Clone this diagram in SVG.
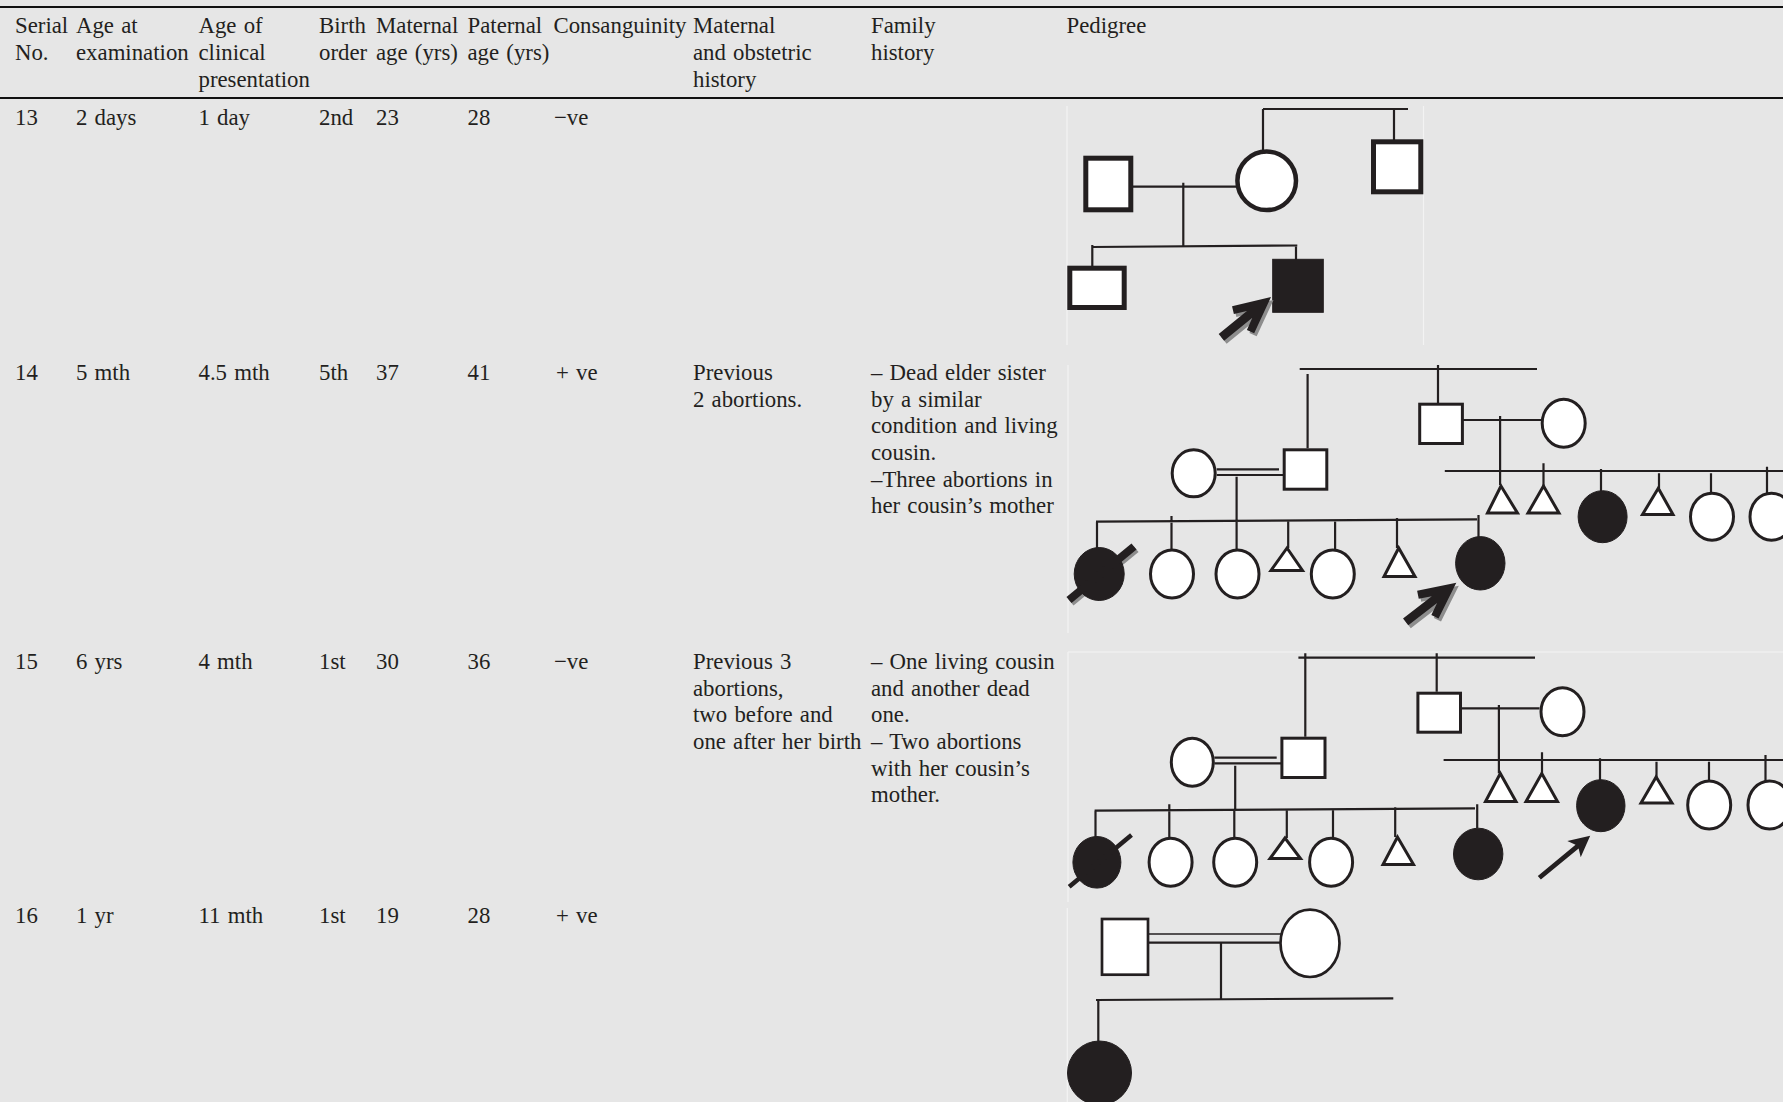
<svg xmlns="http://www.w3.org/2000/svg" width="1783" height="1102" viewBox="0 0 1783 1102">
<style>
.t{font-family:"Liberation Serif","Times New Roman",serif;font-size:22.8px;word-spacing:1.5px;fill:#231f20}
.rule{stroke:#111;stroke-width:2.2;fill:none}
.ln{stroke:#231f20;stroke-width:2.2;fill:none}
.sym{fill:#fff;stroke:#231f20;stroke-width:3}
.thick{stroke-width:5}
.aff{fill:#231f20;stroke:#231f20;stroke-width:1}
.frame{stroke:#f3f3f3;stroke-width:1.2;fill:none}
.shadow{fill:#8d8d8d}
</style>
<defs>
<polygon id="bigArrow" points="0,0 -36,-17.5 -39.5,-10.3 -27.6,-4.3 -64,-4.3 -64,4.3 -27.6,4.3 -39.5,10.3 -36,17.5"/>
<polygon id="thinArrow" points="0,0 -21,-10.5 -17,-2.4 -66,-2.4 -66,2.4 -17,2.4 -21,10.5"/>
</defs>
<rect width="1783" height="1102" fill="#e6e6e6"/>
<g id="table-rules">
<line class="rule" x1="0" y1="7" x2="1783" y2="7"/>
<line class="rule" x1="0" y1="98" x2="1783" y2="98"/>
</g>
<g id="header" class="t">
<text x="15" y="33">Serial</text><text x="15" y="60">No.</text>
<text x="76" y="33">Age at</text><text x="76" y="60">examination</text>
<text x="198.5" y="33">Age of</text><text x="198.5" y="60">clinical</text><text x="198.5" y="86.5">presentation</text>
<text x="319" y="33">Birth</text><text x="319" y="60">order</text>
<text x="376" y="33">Maternal</text><text x="376" y="60">age (yrs)</text>
<text x="467.5" y="33">Paternal</text><text x="467.5" y="60">age (yrs)</text>
<text x="553.5" y="33">Consanguinity</text>
<text x="693" y="33">Maternal</text><text x="693" y="60">and obstetric</text><text x="693" y="86.5">history</text>
<text x="871" y="33">Family</text><text x="871" y="60">history</text>
<text x="1066.5" y="33">Pedigree</text>
</g>
<g id="row13" class="t">
<text x="15" y="125">13</text><text x="76" y="125">2 days</text><text x="198.5" y="125">1 day</text><text x="319" y="125">2nd</text><text x="376" y="125">23</text><text x="467.5" y="125">28</text><text x="554" y="125">−ve</text>
</g>
<g id="row14" class="t">
<text x="15" y="380">14</text><text x="76" y="380">5 mth</text><text x="198.5" y="380">4.5 mth</text><text x="319" y="380">5th</text><text x="376" y="380">37</text><text x="467.5" y="380">41</text><text x="556" y="380">+ ve</text>
<text x="693" y="380">Previous</text><text x="693" y="406.7">2 abortions.</text>
<text x="871" y="380">– Dead elder sister</text><text x="871" y="406.7">by a similar</text><text x="871" y="433.3">condition and living</text><text x="871" y="460">cousin.</text><text x="871" y="486.7">–Three abortions in</text><text x="871" y="513.3">her cousin’s mother</text>
</g>
<g id="row15" class="t">
<text x="15" y="669">15</text><text x="76" y="669">6 yrs</text><text x="198.5" y="669">4 mth</text><text x="319" y="669">1st</text><text x="376" y="669">30</text><text x="467.5" y="669">36</text><text x="554" y="669">−ve</text>
<text x="693" y="669">Previous 3</text><text x="693" y="695.7">abortions,</text><text x="693" y="722.3">two before and</text><text x="693" y="749">one after her birth</text>
<text x="871" y="669">– One living cousin</text><text x="871" y="695.7">and another dead</text><text x="871" y="722.3">one.</text><text x="871" y="749">– Two abortions</text><text x="871" y="775.7">with her cousin’s</text><text x="871" y="802.3">mother.</text>
</g>
<g id="row16" class="t">
<text x="15" y="923">16</text><text x="76" y="923">1 yr</text><text x="198.5" y="923">11 mth</text><text x="319" y="923">1st</text><text x="376" y="923">19</text><text x="467.5" y="923">28</text><text x="556" y="923">+ ve</text>
</g>
<g id="pedigree-frames">
<path class="frame" d="M1067,106 V345 M1423.5,106 V345 M1068,365 V633 M1068,652 V902 M1068,652 H1783 M1067.3,908 V1102"/>
</g>
<g id="connectors">
<path class="ln" d="M1263,109 H1408 M1263,109 V150 M1394,109 V140 M1133,186.7 H1236 M1183.3,182.7 V246.7 M1092.3,247 L1297.3,245.5 M1092.3,245 V266 M1296,245 V260"/>
<path class="ln" d="M1299.7,369 H1537 M1307.6,374 V448.3 M1438,365 V403 M1460,420 H1541.7 M1500.1,416 V485 M1444.8,471 H1783 M1543.5,463.3 V486 M1601,469 V491 M1659,473.3 V488 M1711,473.3 V493 M1767,466.7 V493 M1216.7,469.3 H1279 M1216.7,475 H1283 M1236.6,476.7 V521 M1096,521.7 L1477,519.3 M1097,521.7 V548 M1171.5,516 V555 M1236.6,521 V555 M1288.2,521 V548 M1335.1,520 V550 M1397,518 V548 M1478.5,515 V537"/>
<path class="ln" d="M1298.4,657.7 H1535 M1305.3,653.3 V736.7 M1436.7,653.3 V691.7 M1458.8,708.3 H1539.5 M1498.9,705 V773.3 M1443.6,760 H1783 M1542,752.3 V773.5 M1600,758.3 V780 M1656.5,761.7 V777 M1709,761.7 V781 M1765.5,755 V781 M1214.4,757.7 H1276.7 M1214.4,763.3 H1281.3 M1235.2,765.7 V810 M1094.6,810.7 L1475,808.3 M1095.5,810.7 V837.7 M1169.3,804.3 V843 M1234.3,810 V843 M1286.8,810 V838 M1333,809.5 V838 M1395.2,807.3 V837 M1477.2,804.3 V828.3"/>
<path class="ln" d="M1146.7,934 H1281" style="stroke-width:1.4"/>
<path class="ln" d="M1149,942.7 H1281 M1221,942.7 V999.3 M1096,1000 L1393.3,998.3 M1098.3,1000 V1041.7"/>
</g>
<g id="p13-father"><rect class="sym thick" x="1085.8" y="158.2" width="45" height="51.6"/></g>
<g id="p13-mother"><circle class="sym" style="stroke-width:4.5" cx="1266.7" cy="180.8" r="29.3"/></g>
<g id="p13-uncle"><rect class="sym thick" x="1373.5" y="141.8" width="47.3" height="50"/></g>
<g id="p13-sibling"><rect class="sym thick" x="1069.8" y="268.2" width="54.4" height="39.3"/></g>
<g id="p13-proband"><rect class="aff" x="1272.7" y="259.3" width="50.6" height="53"/></g>
<g id="p13-arrow"><use href="#bigArrow" class="shadow" transform="translate(1273.5,300) rotate(-39.2)"/><use href="#bigArrow" fill="#231f20" transform="translate(1271,297) rotate(-39.2)"/></g>

<g id="p14-grandfather"><rect class="sym" x="1419.7" y="404.2" width="42.7" height="39.3"/></g>
<g id="p14-grandmother"><ellipse class="sym" cx="1563.7" cy="423.3" rx="21.5" ry="24"/></g>
<g id="p14-mother"><ellipse class="sym" cx="1193.7" cy="473.3" rx="21.5" ry="23.5"/></g>
<g id="p14-father"><rect class="sym" x="1284.2" y="449.8" width="42.6" height="39.4"/></g>
<g id="p14-c1"><line x1="1071" y1="602.5" x2="1136" y2="549" stroke="#8d8d8d" stroke-width="8"/><ellipse class="aff" cx="1099.2" cy="574" rx="25" ry="26.5"/><line x1="1069" y1="600" x2="1134" y2="546.5" stroke="#231f20" stroke-width="8"/></g>
<g id="p14-c2"><ellipse class="sym" cx="1172" cy="574" rx="21.5" ry="24"/></g>
<g id="p14-c3"><ellipse class="sym" cx="1237.5" cy="574" rx="21.5" ry="24"/></g>
<g id="p14-c4"><polygon class="sym" points="1287,548 1271,570.5 1302.5,570.5"/></g>
<g id="p14-c5"><ellipse class="sym" cx="1332.8" cy="574" rx="21.5" ry="24"/></g>
<g id="p14-c6"><polygon class="sym" points="1398.7,548 1384,576.5 1415,576.5"/></g>
<g id="p14-proband"><ellipse class="aff" cx="1480.3" cy="563.3" rx="24.7" ry="26.7"/></g>
<g id="p14-arrow"><use href="#bigArrow" class="shadow" transform="translate(1458.8,585.7) rotate(-37.7)"/><use href="#bigArrow" fill="#231f20" transform="translate(1456.3,582.7) rotate(-37.7)"/></g>
<g id="p14-r1"><polygon class="sym" points="1501,486 1487.5,513 1517.5,513"/></g>
<g id="p14-r2"><polygon class="sym" points="1543.5,486 1528,513 1559,513"/></g>
<g id="p14-r3"><ellipse class="aff" cx="1602.6" cy="516.7" rx="24.5" ry="26"/></g>
<g id="p14-r4"><polygon class="sym" points="1658.3,488.3 1642.5,514.5 1673,514.5"/></g>
<g id="p14-r5"><ellipse class="sym" cx="1712" cy="516.7" rx="21.5" ry="23.5"/></g>
<g id="p14-r6"><ellipse class="sym" cx="1771.5" cy="516.7" rx="21.5" ry="23.5"/></g>

<g id="p15-grandfather"><rect class="sym" x="1417.9" y="693.2" width="42.6" height="39"/></g>
<g id="p15-grandmother"><ellipse class="sym" cx="1562.5" cy="711.7" rx="21.5" ry="24"/></g>
<g id="p15-mother"><ellipse class="sym" cx="1192.3" cy="762.3" rx="21" ry="24"/></g>
<g id="p15-father"><rect class="sym" x="1281.9" y="738.2" width="43.1" height="39.3"/></g>
<g id="p15-c1"><ellipse class="aff" cx="1096.9" cy="862.3" rx="24" ry="25.8"/><line x1="1069.2" y1="886.7" x2="1131.5" y2="835" stroke="#231f20" stroke-width="4.5"/></g>
<g id="p15-c2"><ellipse class="sym" cx="1170.6" cy="862.3" rx="21.5" ry="24"/></g>
<g id="p15-c3"><ellipse class="sym" cx="1235.2" cy="862.3" rx="21.5" ry="24"/></g>
<g id="p15-c4"><polygon class="sym" points="1285,838 1270,858.5 1300.5,858.5"/></g>
<g id="p15-c5"><ellipse class="sym" cx="1331.1" cy="862.3" rx="21.5" ry="24"/></g>
<g id="p15-c6"><polygon class="sym" points="1397.5,837 1383,864.5 1413.5,864.5"/></g>
<g id="p15-c7"><ellipse class="aff" cx="1478.2" cy="854" rx="24.7" ry="25.8"/></g>
<g id="p15-r1"><polygon class="sym" points="1500.3,773.5 1485.5,801.5 1516,801.5"/></g>
<g id="p15-r2"><polygon class="sym" points="1541.8,773.5 1526,801.5 1557.5,801.5"/></g>
<g id="p15-proband"><ellipse class="aff" cx="1600.8" cy="805.7" rx="24.2" ry="26"/></g>
<g id="p15-r4"><polygon class="sym" points="1656.1,777 1641,803 1672,803"/></g>
<g id="p15-r5"><ellipse class="sym" cx="1709.2" cy="805" rx="21.5" ry="24"/></g>
<g id="p15-r6"><ellipse class="sym" cx="1769.5" cy="805" rx="21.5" ry="24"/></g>
<g id="p15-arrow"><use href="#thinArrow" fill="#231f20" transform="translate(1590.2,835.7) rotate(-39.6)"/></g>

<g id="p16-father"><rect class="sym" style="stroke-width:2.7" x="1102" y="919" width="46" height="55.7"/></g>
<g id="p16-mother"><ellipse class="sym" style="stroke-width:2.7" cx="1310" cy="943.3" rx="29.5" ry="33.7"/></g>
<g id="p16-proband"><circle class="aff" cx="1099.5" cy="1073" r="32"/></g>
</svg>
